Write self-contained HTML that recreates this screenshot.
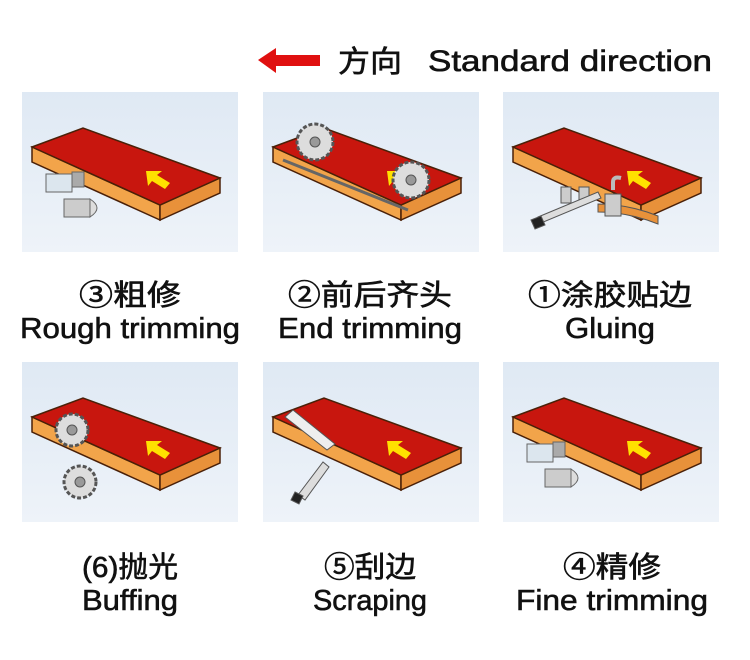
<!DOCTYPE html>
<html><head><meta charset="utf-8"><style>
body{margin:0;background:#fff;width:750px;height:655px;overflow:hidden}
</style></head><body>
<svg width="750" height="655" viewBox="0 0 750 655" xmlns="http://www.w3.org/2000/svg" font-family="Liberation Sans, Noto Sans CJK SC, sans-serif">
<defs>
<linearGradient id="bg" x1="0" y1="0" x2="0" y2="1"><stop offset="0" stop-color="#dfe9f4"/><stop offset="1" stop-color="#eef3f9"/></linearGradient>
<g id="board">
<rect width="216" height="160" fill="url(#bg)"/>
<polygon points="10,55 138,113 138,128 10,70" fill="#f2a44a" stroke="#4a2008" stroke-width="1.5"/>
<polygon points="138,113 198,86 198,101 138,128" fill="#e8913a" stroke="#4a2008" stroke-width="1.5"/>
<polygon points="10,55 61,36 198,86 138,113" fill="#c8160e" stroke="#4a2008" stroke-width="1.5"/>
<polygon points="124,79 140,79 135,83 148,91 143,97 130,89 126,94" fill="#ffe000"/>
</g>
</defs>
<g fill="#111" stroke="#111" stroke-width="0.6">
<polygon points="258,60 276,48 276,55 320,55 320,66 276,66 276,73" fill="#e01010" stroke="none"/>
<text x="338" y="72" font-size="30" textLength="64" lengthAdjust="spacingAndGlyphs">方向</text>
<text x="428" y="71" font-size="30" textLength="284" lengthAdjust="spacingAndGlyphs">Standard direction</text>
</g>

<use href="#board" x="22" y="92"/>
<g transform="translate(22,92)">
<rect x="24" y="82" width="26" height="18" fill="#dce6ee" stroke="#666"/><rect x="50" y="80" width="12" height="15" fill="#aaa" stroke="#666"/>
<rect x="42" y="107" width="26" height="18" fill="#ccc" stroke="#666"/><path d="M68,107 q14,9 0,18z" fill="#ddd" stroke="#666"/>
</g>
<use href="#board" x="263" y="92"/>
<g transform="translate(263,92)" stroke="#555">
<circle cx="52" cy="50" r="18" fill="#ddd" stroke-dasharray="4 2" stroke-width="3"/><circle cx="52" cy="50" r="5" fill="#999"/>
<circle cx="148" cy="88" r="18" fill="#ddd" stroke-dasharray="4 2" stroke-width="3"/><circle cx="148" cy="88" r="5" fill="#999"/>
<line x1="20" y1="68" x2="145" y2="118" stroke="#666" stroke-width="3"/>
</g>
<use href="#board" x="503" y="92"/>
<g transform="translate(503,92)" stroke="#555">
<path d="M95,112 q30,0 60,12 l0,8 q-30,-12 -60,-12z" fill="#e8913a"/>
<rect x="58" y="95" width="10" height="16" fill="#ccc"/><rect x="76" y="95" width="10" height="16" fill="#ccc"/>
<polygon points="35,125 95,100 98,106 38,131" fill="#ddd"/>
<polygon points="28,128 38,124 42,133 32,137" fill="#222"/>
<path d="M110,98 v-8 q0,-6 8,-4" fill="none" stroke="#bbb" stroke-width="4"/>
<rect x="102" y="102" width="16" height="22" fill="#ccc"/>
</g>
<g fill="#111" stroke="#111" stroke-width="0.6" text-anchor="middle">
<text x="130" y="305" font-size="29" textLength="102" lengthAdjust="spacingAndGlyphs">③粗修</text>
<text x="130" y="338" font-size="29" textLength="220" lengthAdjust="spacingAndGlyphs">Rough trimming</text>
<text x="370" y="305" font-size="29" textLength="164" lengthAdjust="spacingAndGlyphs">②前后齐头</text>
<text x="370" y="338" font-size="29" textLength="184" lengthAdjust="spacingAndGlyphs">End trimming</text>
<text x="610" y="305" font-size="29" textLength="164" lengthAdjust="spacingAndGlyphs">①涂胶贴边</text>
<text x="610" y="338" font-size="29" textLength="90" lengthAdjust="spacingAndGlyphs">Gluing</text>
</g>

<use href="#board" x="22" y="362"/>
<g transform="translate(22,362)" stroke="#555">
<circle cx="50" cy="68" r="16" fill="#ddd" stroke-dasharray="4 2" stroke-width="3"/><circle cx="50" cy="68" r="5" fill="#999"/>
<circle cx="58" cy="120" r="16" fill="#ddd" stroke-dasharray="4 2" stroke-width="3"/><circle cx="58" cy="120" r="5" fill="#999"/>
</g>
<use href="#board" x="263" y="362"/>
<g transform="translate(263,362)" stroke="#555">
<polygon points="22,55 30,48 72,82 64,88" fill="#eee"/>
<polygon points="35,133 60,100 66,105 42,138" fill="#ddd"/>
<polygon points="32,130 40,134 36,142 28,138" fill="#222"/>
</g>
<use href="#board" x="503" y="362"/>
<g transform="translate(503,362)">
<rect x="24" y="82" width="26" height="18" fill="#dce6ee" stroke="#666"/><rect x="50" y="80" width="12" height="15" fill="#aaa" stroke="#666"/>
<rect x="42" y="107" width="26" height="18" fill="#ccc" stroke="#666"/><path d="M68,107 q14,9 0,18z" fill="#ddd" stroke="#666"/>
</g>
<g fill="#111" stroke="#111" stroke-width="0.6" text-anchor="middle">
<text x="130" y="577" font-size="29" textLength="96" lengthAdjust="spacingAndGlyphs">(6)抛光</text>
<text x="130" y="610" font-size="29" textLength="96" lengthAdjust="spacingAndGlyphs">Buffing</text>
<text x="370" y="577" font-size="29" textLength="92" lengthAdjust="spacingAndGlyphs">⑤刮边</text>
<text x="370" y="610" font-size="29" textLength="114" lengthAdjust="spacingAndGlyphs">Scraping</text>
<text x="612" y="577" font-size="29" textLength="98" lengthAdjust="spacingAndGlyphs">④精修</text>
<text x="612" y="610" font-size="29" textLength="192" lengthAdjust="spacingAndGlyphs">Fine trimming</text>
</g>
</svg>
</body></html>
